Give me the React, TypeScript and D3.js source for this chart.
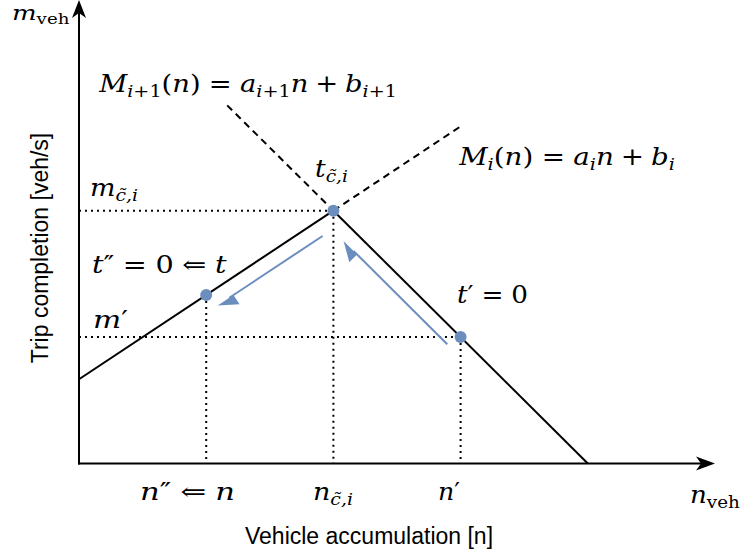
import React, { useLayoutEffect, useRef } from "react";
import * as d3 from "d3";

// ---- data (abstract units) ----
const xDomain = [0, 10];
const yDomain = [0, 11];
// solid branch of M_i and dashed extension
const branchI = [[0, 2], [4, 6]];
const branchIDashed = [[4, 6], [6, 8]];
// solid branch of M_{i+1} and dashed extension
const branchI1 = [[4, 6], [8, 0]];
const branchI1Dashed = [[2.33, 8.5], [4, 6]];
// marked points: t'' (n''), peak (n_c), t' (n')
const pointsN = [2, 4, 6];
const pointsM = [4, 6, 3];
// dotted guides
const guideH = [[4, 6], [6, 3]];
const guideV = [[2, 4], [4, 6], [6, 3]];
// blue arrows [from, to]
const arrows = [
  [[3.83, 5.4], [2.18, 3.75]],
  [[5.79, 2.83], [4.16, 5.28]],
];

type Seg = { t: string; it?: boolean; sub?: boolean; sp?: number };

const MATH_FONT = "'DejaVu Serif', 'Liberation Serif', serif";

function MathText({ x, y, w, segs, size }: { x: number; y: number; w: number; segs: Seg[]; size: number }) {
  const gRef = useRef<SVGGElement>(null);
  const tRef = useRef<SVGTextElement>(null);
  useLayoutEffect(() => {
    const t = tRef.current, g = gRef.current;
    if (!t || !g) return;
    const bb = t.getBBox();
    const s = bb.width > 0 ? w / bb.width : 1;
    g.setAttribute("transform", `translate(${x},${y}) scale(${s},1) translate(${-bb.x},0)`);
  }, [x, y, w]);
  let prevSub = false;
  const shift = size * 0.2;
  return (
    <g ref={gRef} transform={`translate(${x},${y})`}>
      <text ref={tRef} x={0} y={0} fontFamily={MATH_FONT} fontSize={size} fill="#000">
        {segs.map((s, i) => {
          let dy = 0;
          if (s.sub && !prevSub) dy = shift;
          if (!s.sub && prevSub) dy = -shift;
          prevSub = !!s.sub;
          return (
            <tspan
              key={i}
              dy={dy || undefined}
              dx={s.sp ? s.sp * size : undefined}
              fontStyle={s.it ? "italic" : "normal"}
              fontSize={s.sub ? size * 0.7 : size}
            >
              {s.t}
            </tspan>
          );
        })}
      </text>
    </g>
  );
}

const CT = "c\u0303";
const FS = 24;

export default function App() {
  const W = 742, H = 556;
  const x = d3.scaleLinear().domain(xDomain).range([79, 715]);
  const y = d3.scaleLinear().domain(yDomain).range([463.5, 0]);
  const line = d3.line<number[]>().x((d) => x(d[0])).y((d) => y(d[1]));
  const blue = "#6c8ebf";

  const x0 = x(0), y0 = y(0);
  const yTop = y(yDomain[1]);
  const xEnd = x(xDomain[1]);

  const arrowHead = (from: number[], to: number[]) => {
    const fx = x(from[0]), fy = y(from[1]);
    const tx = x(to[0]), ty = y(to[1]);
    const L = Math.hypot(fx - tx, fy - ty);
    const bx = (fx - tx) / L, by = (fy - ty) / L;
    const nx = -by, ny = bx;
    const back = 19, w = 11;
    const p1 = [tx + bx * back, ty + by * back];
    const p2 = [tx + bx * back + nx * w, ty + by * back + ny * w];
    const lineEnd = [tx + bx * 14, ty + by * 14];
    return { tip: [tx, ty], p1, p2, lineEnd, start: [fx, fy] };
  };

  const dotted = "2 4";
  const tickY = 500;

  return (
    <svg width={W} height={H} style={{ position: "absolute", left: 0, top: 0, background: "#fff" }}>
      {/* dotted guides */}
      {guideH.map((g, i) => (
        <line key={"gh" + i} x1={x0} x2={x(g[0])} y1={y(g[1])} y2={y(g[1])}
          stroke="#000" strokeWidth={2} strokeDasharray={dotted} />
      ))}
      {guideV.map((g, i) => (
        <line key={"gv" + i} x1={x(g[0])} x2={x(g[0])} y1={y(g[1])} y2={y0}
          stroke="#000" strokeWidth={2} strokeDasharray={dotted} />
      ))}
      {/* branches */}
      <path d={line(branchI as any) || ""} stroke="#000" strokeWidth={2} fill="none" />
      <path d={line(branchI1 as any) || ""} stroke="#000" strokeWidth={2} fill="none" />
      <path d={line(branchIDashed as any) || ""} stroke="#000" strokeWidth={2} fill="none" strokeDasharray="7 5" />
      <path d={line(branchI1Dashed as any) || ""} stroke="#000" strokeWidth={2} fill="none" strokeDasharray="7 5" />

      {/* axes */}
      <line x1={x0} x2={x0} y1={y0 + 1} y2={yTop + 12} stroke="#000" strokeWidth={2} />
      <path d={`M${x0},${yTop} L${x0 + 7},${yTop + 18} L${x0},${yTop + 13} L${x0 - 7},${yTop + 18} Z`} fill="#000" />
      <line x1={x0 - 1} x2={xEnd - 12} y1={y0} y2={y0} stroke="#000" strokeWidth={2} />
      <path d={`M${xEnd},${y0} L${xEnd - 19},${y0 - 7} L${xEnd - 14},${y0} L${xEnd - 19},${y0 + 7} Z`} fill="#000" />

      {/* blue arrows */}
      {arrows.map((a, i) => {
        const h = arrowHead(a[0], a[1]);
        return (
          <g key={"ar" + i}>
            <line x1={h.start[0]} y1={h.start[1]} x2={h.lineEnd[0]} y2={h.lineEnd[1]} stroke={blue} strokeWidth={2} />
            <path d={`M${h.tip[0]},${h.tip[1]} L${h.p1[0]},${h.p1[1]} L${h.p2[0]},${h.p2[1]} Z`} fill={blue} />
          </g>
        );
      })}

      {/* points */}
      {pointsN.map((n, i) => (
        <circle key={"pt" + i} cx={x(n)} cy={y(pointsM[i])} r={6} fill={blue} />
      ))}

      {/* math labels */}
      <MathText x={12} y={20} w={58} size={21} segs={[{ t: "m", it: true }, { t: "veh", sub: true }]} />
      <MathText x={98} y={92} w={299} size={FS} segs={[
        { t: "M", it: true }, { t: "i", it: true, sub: true }, { t: "+1", sub: true },
        { t: "(" }, { t: "n", it: true }, { t: ")" }, { t: "=", sp: 0.3 }, { t: "a", it: true, sp: 0.3 },
        { t: "i", it: true, sub: true }, { t: "+1", sub: true }, { t: "n", it: true }, { t: "+", sp: 0.25 },
        { t: "b", it: true, sp: 0.25 }, { t: "i", it: true, sub: true }, { t: "+1", sub: true },
      ]} />
      <MathText x={315} y={177} w={33} size={FS} segs={[{ t: "t", it: true }, { t: CT + ",i", it: true, sub: true }]} />
      <MathText x={458} y={165} w={217} size={FS} segs={[
        { t: "M", it: true }, { t: "i", it: true, sub: true }, { t: "(" }, { t: "n", it: true },
        { t: ")" }, { t: "=", sp: 0.3 }, { t: "a", it: true, sp: 0.3 }, { t: "i", it: true, sub: true }, { t: "n", it: true },
        { t: "+", sp: 0.25 }, { t: "b", it: true, sp: 0.25 }, { t: "i", it: true, sub: true },
      ]} />
      <MathText x={90} y={196} w={48} size={FS} segs={[{ t: "m", it: true }, { t: CT + ",i", it: true, sub: true }]} />
      <MathText x={92} y={273} w={135} size={FS} segs={[
        { t: "t", it: true }, { t: "\u2033" }, { t: "=", sp: 0.3 }, { t: "0", sp: 0.3 },
        { t: "\u21D0", sp: 0.3 }, { t: "t", it: true, sp: 0.3 },
      ]} />
      <MathText x={93} y={328} w={35} size={FS} segs={[{ t: "m", it: true }, { t: "\u2032" }]} />
      <MathText x={457} y={303} w={71} size={FS} segs={[{ t: "t", it: true }, { t: "\u2032" }, { t: "=", sp: 0.3 }, { t: "0", sp: 0.3 }]} />
      <MathText x={140} y={tickY} w={95} size={FS} segs={[{ t: "n", it: true }, { t: "\u2033" }, { t: "\u21D0", sp: 0.3 }, { t: "n", it: true, sp: 0.3 }]} />
      <MathText x={313} y={tickY} w={40} size={FS} segs={[{ t: "n", it: true }, { t: CT + ",i", it: true, sub: true }]} />
      <MathText x={438} y={tickY} w={22} size={FS} segs={[{ t: "n", it: true }, { t: "\u2032" }]} />
      <MathText x={690} y={503} w={50} size={FS} segs={[{ t: "n", it: true }, { t: "veh", sub: true }]} />

      {/* axis titles */}
      <text x={245} y={544} fontFamily="'Liberation Sans', Arial, sans-serif" fontSize={23} fill="#000">
        Vehicle accumulation [n]
      </text>
      <text transform="translate(48,248) rotate(-90)" textAnchor="middle"
        fontFamily="'Liberation Sans', Arial, sans-serif" fontSize={23} fill="#000">
        Trip completion [veh/s]
      </text>
    </svg>
  );
}
